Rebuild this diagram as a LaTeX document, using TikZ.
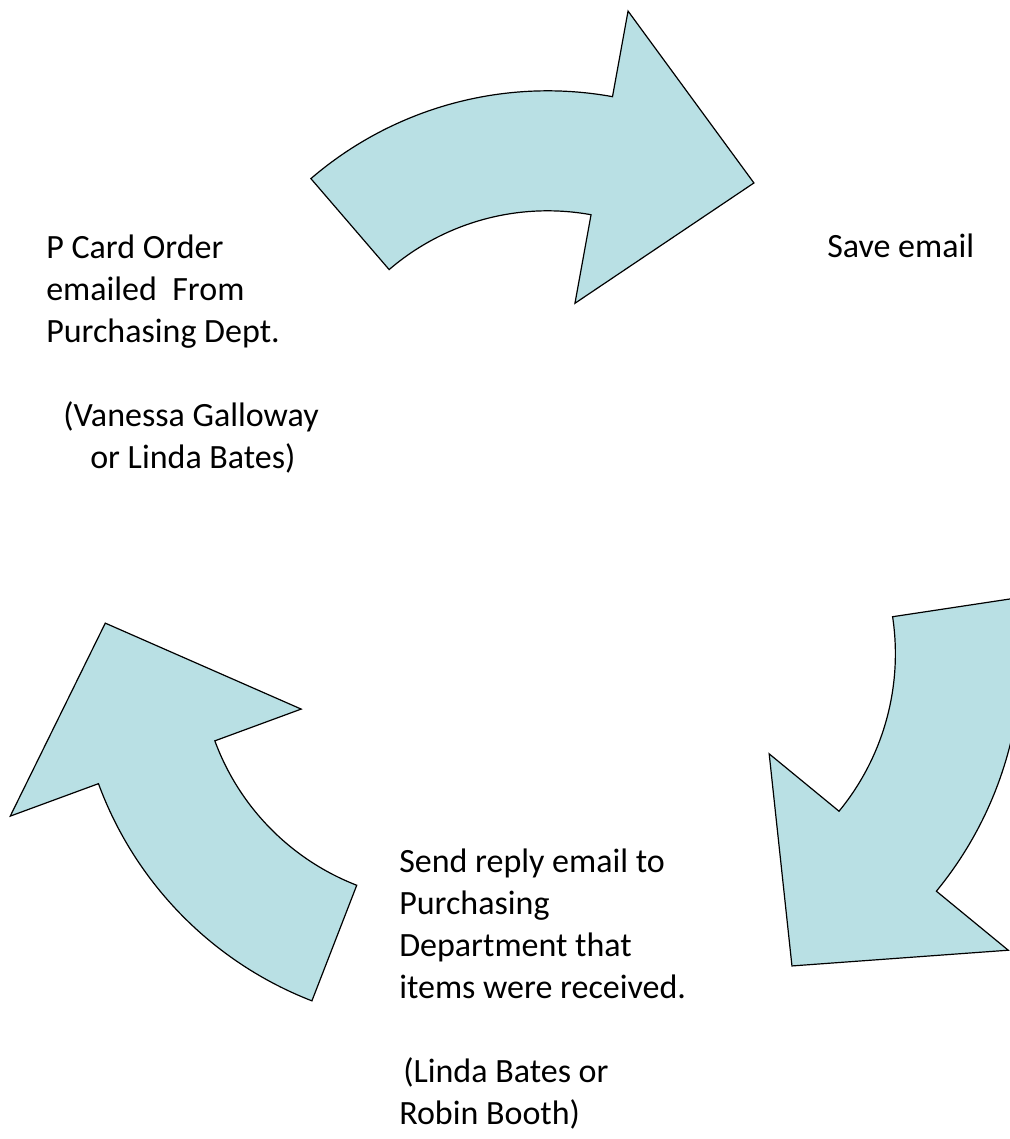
\documentclass[tikz,border=0pt]{standalone}
\usepackage{fontspec}
\setmainfont{Carlito}
\usetikzlibrary{positioning}

\definecolor{arrowfill}{RGB}{185,224,228}

\begin{document}
\begin{tikzpicture}[x=0.75pt,y=-0.75pt]
        \tikzstyle{cyclearrow}=[fill=arrowfill, draw=black, line width=0.9pt, line join=miter]
        \tikzstyle{step text}=[inner sep=0pt, anchor=base west, align=left,
                               font=\fontsize{25.5}{31.5}\selectfont]

        \useasboundingbox (0,0) rectangle (1010,1139);
        \clip (0,0) rectangle (1010,1139);

        % top arrow
        \begin{scope}[shift={(547.6,453.8)}]
            \draw[cyclearrow] (-130.7:363) arc[start angle=-130.7, end angle=-79.7, radius=363]
                -- (-79.7:450) -- (-52.7:340.5) -- (-79.7:153) -- (-79.7:243)
                arc[start angle=-79.7, end angle=-130.7, radius=243] -- cycle;
        \end{scope}

        % right arrow
        \begin{scope}[shift={(647.4,653.8)}]
            \draw[cyclearrow] (-8.6:374) arc[start angle=-8.6, end angle=39.4, radius=374]
                -- (39.4:467) -- (65.15:344) -- (39.4:157.6) -- (39.4:248)
                arc[start angle=39.4, end angle=-8.6, radius=248] -- cycle;
        \end{scope}

        % left arrow
        \begin{scope}[shift={(445.7,655.9)}]
            \draw[cyclearrow] (111.2:370) arc[start angle=111.2, end angle=159.8, radius=370]
                -- (159.8:464) -- (185.5:342) -- (159.8:154) -- (159.8:246)
                arc[start angle=159.8, end angle=111.2, radius=246] -- cycle;
        \end{scope}

        % base is the last line
        \node[step text] (order) at (46,468)
            {P Card Order\\emailed~ From\\Purchasing Dept.\\[31.5pt]
             \hspace*{12.75pt}(Vanessa Galloway\\\hspace*{33pt}or Linda Bates)};
        \node[step text] (save)  at (827,257) {Save email};
        \node[step text] (reply) at (399,1124)
            {Send reply email to\\Purchasing\\Department that\\items were received.\\[31.5pt]
             \hspace*{3pt}(Linda Bates or\\Robin Booth)};
    \end{tikzpicture}
\end{document}
